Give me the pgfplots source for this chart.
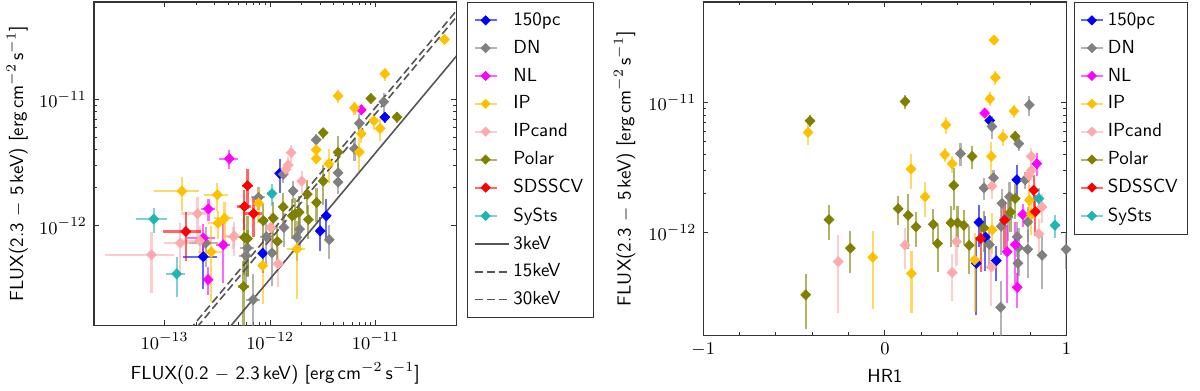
\documentclass[border=0pt]{standalone}
\usepackage{pgfplots}
\pgfplotsset{compat=1.18}

\definecolor{cPC}{HTML}{0000FF}
\definecolor{cDN}{HTML}{808080}
\definecolor{cNL}{HTML}{FF00FF}
\definecolor{cIP}{HTML}{FFC000}
\definecolor{cIPc}{HTML}{FFAAAA}
\definecolor{cPol}{HTML}{808000}
\definecolor{cSD}{HTML}{FF0000}
\definecolor{cSy}{HTML}{1FB5B5}
\definecolor{cline}{HTML}{555555}

\pgfplotsset{
  cv/.style={only marks, color=#1, mark=diamond*, mark size=2.5pt,
    mark options={fill=#1, draw=#1, solid, xscale=1.3},
    error bars/error bar style={line width=1.1pt, color=#1, opacity=0.6},
    error bars/error mark=none,
    legend image code/.code={
      \draw[color=#1, opacity=0.6, line width=1pt] (0pt,0pt) -- (11pt,0pt);
      \fill[color=#1] (5.5pt,2.2pt) -- (7.7pt,0pt) -- (5.5pt,-2.2pt) -- (3.3pt,0pt) -- cycle;
    }},
  lrerr/.style={error bars/x dir=both, error bars/x explicit relative,
    error bars/y dir=both, error bars/y explicit relative},
  rerr/.style={error bars/y dir=both, error bars/y explicit relative},
  panelstyle/.style={scale only axis,
    ymin=1.62e-13, ymax=5.93e-11, ytick={1e-12,1e-11},
    axis line style={black!80, line width=0.6pt},
    tick style={black!80, line width=0.5pt},
    major tick length=2.6pt, minor tick length=1.6pt,
    font=\fontsize{9.5}{11}\selectfont\sffamily,
    ylabel={FLUX(2.3 $-$ 5\,keV) [erg\,cm$^{-2}$\,s$^{-1}$]},
    legend cell align=left,
    legend style={anchor=north west, draw=black!80, line width=0.5pt,
      font=\fontsize{9.5}{11}\selectfont\sffamily, row sep=1.9pt,
      inner xsep=3pt, inner ysep=3pt},
  },
}

\begin{document}
\begin{tikzpicture}
\path (0,0) rectangle (600pt,-194.5pt);

% left: hard flux vs soft flux
\begin{axis}[xmode=log, ymode=log, panelstyle, at={(44.5pt,-1pt)}, anchor=north west,
  width=182pt, height=162.5pt,
  xmin=2.14e-14, xmax=5.8e-11, xtick={1e-13,1e-12,1e-11},
  xlabel={FLUX(0.2 $-$ 2.3\,keV) [erg\,cm$^{-2}$\,s$^{-1}$]},
  ylabel style={at={(axis description cs:-0.2115,0.5)}, anchor=center},
  legend style={at={(1.03,1)}}]
\addplot[cv=cPC, lrerr] table[x=x, y=y, x error=rx, y error=ry] {
x y rx ry
1.22e-11 7.25e-12 0.05 0.10
1.23e-12 2.6e-12 0.08 0.30
3.4e-12 1.2e-12 0.05 0.35
2.98e-12 9.1e-13 0.05 0.30
2.32e-13 5.7e-13 0.35 0.45
8.5e-13 6.05e-13 0.10 0.30
};
\addlegendentry{150pc}
\addplot[cv=cDN, lrerr] table[x=x, y=y, x error=rx, y error=ry] {
x y rx ry
1.19e-11 9.6e-12 0.05 0.18
7.0e-12 6.5e-12 0.05 0.18
2.73e-12 4.8e-12 0.05 0.12
6.3e-12 4.08e-12 0.05 0.20
1.33e-12 2.56e-12 0.10 0.15
4.4e-12 2.63e-12 0.05 0.20
4.4e-12 2.22e-12 0.05 0.20
1.65e-12 1.89e-12 0.08 0.20
7.76e-13 1.68e-12 0.15 0.20
3.63e-12 7.76e-13 0.05 0.30
1.9e-12 9.4e-13 0.08 0.30
1.79e-12 8.1e-13 0.08 0.35
9.2e-13 8.2e-13 0.12 0.40
1.35e-12 9.7e-13 0.10 0.30
1.04e-12 6.1e-13 0.10 0.45
5.9e-13 5.8e-13 0.15 0.45
6.9e-13 2.6e-13 0.15 0.60
6.1e-13 6.67e-13 0.15 0.40
2.45e-13 7.3e-13 0.30 0.35
};
\addlegendentry{DN}
\addplot[cv=cNL, lrerr] table[x=x, y=y, x error=rx, y error=ry] {
x y rx ry
7.3e-12 8.3e-12 0.04 0.05
4.1e-13 3.4e-12 0.20 0.17
2.6e-13 1.36e-12 0.15 0.20
2.33e-13 8.0e-13 0.30 0.30
3.6e-13 7.05e-13 0.15 0.50
2.58e-13 3.75e-13 0.10 0.25
};
\addlegendentry{NL}
\addplot[cv=cIP, lrerr] table[x=x, y=y, x error=rx, y error=ry] {
x y rx ry
4.48e-11 3.0e-11 0.04 0.05
1.22e-11 1.6e-11 0.04 0.12
4.4e-12 1.07e-11 0.04 0.12
6.3e-12 8.6e-12 0.04 0.12
9.6e-12 6.8e-12 0.04 0.15
1.1e-11 5.9e-12 0.04 0.20
7.3e-12 5.36e-12 0.04 0.15
2.73e-12 4.0e-12 0.04 0.10
2.73e-12 3.4e-12 0.04 0.10
7.0e-12 3.84e-12 0.04 0.30
3.6e-12 3.1e-12 0.05 0.30
1.46e-13 1.88e-12 0.46 0.30
3.16e-13 1.76e-12 0.25 0.25
3.7e-13 1.15e-12 0.20 0.35
3.2e-13 1.05e-12 0.20 0.25
2.77e-13 6.2e-13 0.25 0.60
7.76e-13 1.51e-12 0.10 0.30
8.5e-13 4.84e-13 0.10 0.50
1.79e-12 6.55e-13 0.20 0.60
};
\addlegendentry{IP}
\addplot[cv=cIPc, lrerr] table[x=x, y=y, x error=rx, y error=ry] {
x y rx ry
1.58e-12 3.8e-12 0.06 0.15
1.48e-12 3.03e-12 0.06 0.15
1.41e-12 2.8e-12 0.06 0.15
1.99e-12 2.26e-12 0.08 0.20
2.05e-13 1.25e-12 0.30 0.35
4.5e-13 8.2e-13 0.15 0.20
2.15e-13 7.6e-13 0.30 0.30
1.41e-13 7.3e-13 0.30 0.45
7.5e-14 5.9e-13 0.64 0.50
1.19e-12 5.0e-13 0.10 0.35
4.57e-13 8.3e-13 0.20 0.30
1.01e-12 9.7e-13 0.10 0.30
};
\addlegendentry{IPcand}
\addplot[cv=cPol, lrerr] table[x=x, y=y, x error=rx, y error=ry] {
x y rx ry
9.0e-12 1.02e-11 0.05 0.10
1.59e-11 7.25e-12 0.05 0.10
3.18e-12 5.46e-12 0.05 0.10
4.4e-12 3.82e-12 0.05 0.35
3.18e-12 2.26e-12 0.05 0.35
2.25e-12 1.78e-12 0.08 0.30
1.33e-12 1.41e-12 0.10 0.30
2.75e-12 1.53e-12 0.06 0.30
2.3e-12 1.12e-12 0.06 0.30
1.88e-12 1.28e-12 0.08 0.35
1.72e-12 1.24e-12 0.08 0.35
1.62e-12 1.2e-12 0.08 0.35
1.07e-12 1.15e-12 0.10 0.35
8.6e-13 1.1e-12 0.10 0.35
1.17e-12 7.5e-13 0.10 0.35
5.7e-13 8.1e-13 0.10 0.50
6.1e-13 7.9e-13 0.10 0.50
5.6e-13 3.3e-13 0.12 0.60
};
\addlegendentry{Polar}
\addplot[cv=cSD, lrerr] table[x=x, y=y, x error=rx, y error=ry] {
x y rx ry
6.1e-13 2.08e-12 0.12 0.35
1.59e-13 9.0e-13 0.39 0.42
5.7e-13 1.42e-12 0.15 0.35
6.95e-13 1.25e-12 0.20 0.35
};
\addlegendentry{SDSSCV}
\addplot[cv=cSy, lrerr] table[x=x, y=y, x error=rx, y error=ry] {
x y rx ry
7.9e-14 1.13e-12 0.32 0.22
1.3e-13 4.16e-13 0.20 0.35
1.04e-12 1.8e-12 0.10 0.20
};
\addlegendentry{SySts}
\addplot[cline, line width=0.8pt] coordinates {(1e-14,3.8e-15) (1e-10,3.8e-11)};
\addlegendentry{3keV}
\addplot[cline, line width=0.8pt, dash pattern=on 4pt off 2pt] coordinates {(1e-14,7.76e-15) (1e-10,7.76e-11)};
\addlegendentry{15keV}
\addplot[cline, line width=0.8pt, dash pattern=on 4pt off 2pt] coordinates {(1e-14,8.7e-15) (1e-10,8.7e-11)};
\addlegendentry{30keV}
\end{axis}

% right: hard flux vs hardness ratio
\begin{axis}[ymode=log, panelstyle, at={(350.5pt,-1pt)}, anchor=north west,
  width=182.5pt, height=167.5pt,
  xmin=-1, xmax=1, xtick={-1,0,1}, minor x tick num=4,
  xlabel={HR1},
  ylabel style={at={(axis description cs:-0.2164,0.5)}, anchor=center},
  legend style={at={(1.019,1)}}]
\addplot[cv=cPC, rerr] table[x=h, y=y, y error=ry] {
h y ry
0.577 7.28e-12 0.08
0.726 2.55e-12 0.30
0.518 1.2e-12 0.35
0.553 9.25e-13 0.45
0.503 5.82e-13 0.60
0.613 6.1e-13 0.30
};
\addlegendentry{150pc}
\addplot[cv=cDN, rerr] table[x=h, y=y, y error=ry] {
h y ry
0.589 6.55e-12 0.20
0.795 9.6e-12 0.18
0.737 4.83e-12 0.12
0.416 4.05e-12 0.20
0.598 2.64e-12 0.15
0.545 2.21e-12 0.20
0.772 2.55e-12 0.15
0.686 1.89e-12 0.30
0.644 1.68e-12 0.30
0.640 1.12e-12 0.40
0.677 1.32e-12 0.35
0.786 1.21e-12 0.30
0.575 8.1e-13 0.35
0.728 9.3e-13 0.30
0.735 7.7e-13 0.40
0.786 7.45e-13 0.40
0.865 6.7e-13 0.45
0.732 5.82e-13 0.40
0.637 2.67e-13 0.60
0.997 7.45e-13 0.30
};
\addlegendentry{DN}
\addplot[cv=cNL, rerr] table[x=h, y=y, y error=ry] {
h y ry
0.549 8.3e-12 0.05
0.836 3.39e-12 0.20
0.759 1.38e-12 0.20
0.717 8.1e-13 0.50
0.673 7.14e-13 0.60
0.728 3.8e-13 0.30
};
\addlegendentry{NL}
\addplot[cv=cIP, rerr] table[x=h, y=y, y error=ry] {
h y ry
0.600 3.02e-11 0.05
0.608 1.56e-11 0.12
0.578 1.07e-11 0.12
0.710 8.6e-12 0.12
0.336 6.75e-12 0.15
0.650 5.43e-12 0.15
0.330 3.98e-12 0.12
0.370 3.39e-12 0.15
0.586 3.86e-12 0.30
0.144 3.09e-12 0.30
0.221 1.89e-12 0.30
0.795 1.78e-12 0.30
0.805 1.38e-12 0.30
0.591 1.05e-12 0.35
0.494 6.17e-13 0.60
-0.067 6.47e-13 0.60
0.146 4.86e-13 0.50
-0.423 5.9e-12 0.20
};
\addlegendentry{IP}
\addplot[cv=cIPc, rerr] table[x=h, y=y, y error=ry] {
h y ry
0.805 3.86e-12 0.15
0.805 3.0e-12 0.15
0.792 2.76e-12 0.15
0.589 2.28e-12 0.20
0.865 1.58e-12 0.25
0.847 9.8e-13 0.30
0.111 8.04e-13 0.35
0.394 8.53e-13 0.35
0.370 4.94e-13 0.40
-0.257 6.0e-13 0.60
0.586 5.45e-13 0.50
};
\addlegendentry{IPcand}
\addplot[cv=cPol, rerr] table[x=h, y=y, y error=ry] {
h y ry
-0.412 7.24e-12 0.10
0.111 1.02e-11 0.12
0.717 5.5e-12 0.10
0.480 3.86e-12 0.20
0.379 2.31e-12 0.35
0.717 1.83e-12 0.30
0.073 1.53e-12 0.25
0.128 1.36e-12 0.45
-0.308 1.26e-12 0.30
0.171 1.11e-12 0.30
0.266 1.16e-12 0.30
0.363 1.19e-12 0.35
0.400 1.19e-12 0.35
0.434 1.14e-12 0.30
0.290 8.24e-13 0.40
0.464 8.0e-13 0.40
-0.190 7.6e-13 0.35
-0.436 3.33e-13 0.45
0.544 1.09e-12 0.35
0.691 1.44e-12 0.30
};
\addlegendentry{Polar}
\addplot[cv=cSD, rerr] table[x=h, y=y, y error=ry] {
h y ry
0.819 2.12e-12 0.30
0.658 1.25e-12 0.40
0.828 1.45e-12 0.35
0.527 9.0e-13 0.45
};
\addlegendentry{SDSSCV}
\addplot[cv=cSy, rerr] table[x=h, y=y, y error=ry] {
h y ry
0.847 1.83e-12 0.20
0.936 1.14e-12 0.20
};
\addlegendentry{SySts}
\end{axis}
\end{tikzpicture}
\end{document}
